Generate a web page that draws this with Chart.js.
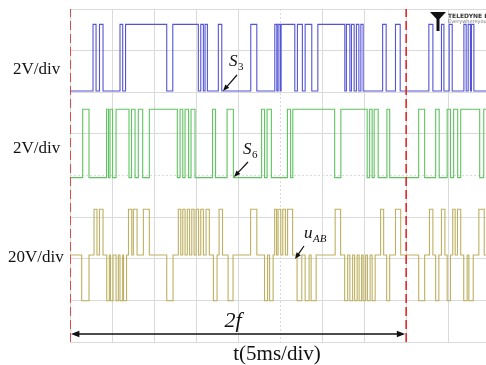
<!DOCTYPE html>
<html>
<head>
<meta charset="utf-8">
<script src="https://cdn.jsdelivr.net/npm/chart.js@4.4.1/dist/chart.umd.min.js"></script>
<style>
  html, body { margin: 0; padding: 0; background: #fff; }
</style>
</head>
<body>
<canvas id="scope" width="486" height="365"></canvas>
<script>
/* -----------------------
data (time in ms, 5 ms per division)
-------------------------- */
const tMax = 49.5;
const tEnd = 55;
const xGrid = [0, 5, 10, 15, 20, 25, 30, 35, 40, 45];
const yGrid = [0, 1, 2, 3, 4, 5, 6, 7, 8];
const periodMarks = [0, 40];

// S3 gate signal, intervals where it is high
const s3High = [
  [2.74, 3.10], [3.51, 3.93], [5.95, 6.27], [6.61, 11.51], [12.23, 15.27],
  [15.56, 15.87], [16.07, 16.35], [17.65, 18.06], [21.51, 22.23], [24.37, 24.61],
  [24.76, 25.00], [25.12, 26.75], [27.06, 27.65], [27.98, 28.77], [29.49, 32.70],
  [32.89, 33.30], [33.49, 33.81], [34.08, 34.37], [34.61, 34.88], [37.20, 37.62],
  [38.73, 39.29], [42.70, 43.18], [44.20, 44.49], [45.12, 45.48], [46.87, 47.14],
  [47.38, 47.65], [47.77, 48.06]
];

// S6 gate signal, intervals where it is high
const s6High = [
  [1.51, 2.26], [4.35, 4.58], [4.76, 5.06], [5.48, 7.02], [7.32, 7.74],
  [8.13, 8.65], [9.44, 12.77], [13.10, 13.42], [13.69, 14.11], [14.40, 14.88],
  [16.96, 17.32], [18.69, 19.44], [22.80, 23.15], [23.45, 23.96], [25.87, 26.25],
  [26.51, 31.49], [32.23, 35.36], [35.65, 35.95], [36.19, 36.67], [37.71, 38.04],
  [41.49, 42.20], [43.51, 43.93], [44.88, 45.27], [45.65, 46.13], [46.49, 48.75],
  [49.23, 50.50]
];

// uAB, positive and negative pulses
const uabPlus = [
  [2.86, 3.21], [3.51, 3.93], [6.96, 7.35], [7.54, 7.98], [8.73, 9.44],
  [12.89, 13.18], [13.42, 13.69], [13.96, 14.23], [14.49, 14.76], [15.00, 15.30],
  [15.56, 15.87], [16.19, 16.58], [17.74, 18.15], [21.49, 22.23], [24.35, 24.58],
  [24.76, 25.08], [25.32, 25.63], [25.89, 26.49], [31.55, 32.20], [36.96, 37.32],
  [38.73, 39.35], [42.77, 43.18], [44.20, 44.61], [45.54, 45.83], [46.11, 46.49],
  [48.65, 49.29]
];
const uabMinus = [
  [1.39, 2.26], [4.37, 4.68], [4.82, 5.12], [5.48, 5.75], [5.95, 6.27],
  [6.37, 6.73], [11.51, 12.26], [17.06, 17.50], [18.81, 19.40], [23.15, 23.51],
  [23.75, 24.17], [27.02, 27.58], [27.98, 28.45], [28.69, 29.29], [32.68, 33.04],
  [33.30, 33.63], [33.87, 34.17], [34.40, 34.70], [34.88, 35.18], [35.39, 35.71],
  [35.95, 36.31], [37.68, 38.04], [41.49, 42.20], [43.51, 43.89], [44.88, 45.27],
  [46.85, 47.26], [47.46, 47.98]
];

// channel offsets on screen (divisions)
const s3Level = { low: 6.03, high: 7.63 };
const s6Level = { low: 3.95, high: 5.59 };
const uabLevel = { zero: 2.09, amp: 1.1 };

/* -----------------------
build step traces
-------------------------- */
function gateTrace(pulses, lvl) {
  const pts = [{ x: 0, y: lvl.low }];
  pulses.forEach(function (p) {
    pts.push({ x: p[0], y: lvl.high });
    pts.push({ x: p[1], y: lvl.low });
  });
  pts.push({ x: tEnd, y: lvl.low });
  return pts;
}

function uabTrace() {
  const all = uabPlus.map(p => [p[0], p[1], 1])
    .concat(uabMinus.map(p => [p[0], p[1], -1]))
    .sort((a, b) => a[0] - b[0]);
  const pts = [{ x: 0, y: uabLevel.zero }];
  all.forEach(function (p) {
    pts.push({ x: p[0], y: uabLevel.zero + p[2] * uabLevel.amp });
    pts.push({ x: p[1], y: uabLevel.zero });
  });
  pts.push({ x: tEnd, y: uabLevel.zero });
  return pts;
}

const redLines = periodMarks.map(function (t) {
  return {
    data: [{ x: t, y: 0 }, { x: t, y: 8 }],
    borderColor: 'rgb(222,40,40)',
    borderWidth: 1.6,
    borderDash: [9, 4],
    pointRadius: 0,
    order: 0
  };
});

/* -----------------------
labels, arrows and logo
-------------------------- */
function arrow(ctx, x1, y1, x2, y2, head) {
  const a = Math.atan2(y2 - y1, x2 - x1);
  ctx.beginPath();
  ctx.moveTo(x1, y1);
  ctx.lineTo(x2 - Math.cos(a) * head * 0.8, y2 - Math.sin(a) * head * 0.8);
  ctx.stroke();
  ctx.beginPath();
  ctx.moveTo(x2, y2);
  ctx.lineTo(x2 - head * Math.cos(a - 0.38), y2 - head * Math.sin(a - 0.38));
  ctx.lineTo(x2 - head * Math.cos(a + 0.38), y2 - head * Math.sin(a + 0.38));
  ctx.closePath();
  ctx.fill();
}

const notes = {
  id: 'notes',
  afterDatasetsDraw(chart) {
    const ctx = chart.ctx;
    const xs = chart.scales.x;
    ctx.save();
    ctx.fillStyle = '#111';
    ctx.strokeStyle = '#111';

    // volts per division
    ctx.font = '17px "Liberation Serif"';
    ctx.textBaseline = 'middle';
    ctx.textAlign = 'left';
    ctx.fillText('2V/div', 13, 70);
    ctx.fillText('2V/div', 13, 149);
    ctx.fillText('20V/div', 8, 258);

    // axis caption
    ctx.font = '21px "Liberation Serif"';
    ctx.textAlign = 'center';
    ctx.fillText('t(5ms/div)', 277, 354);

    // 2f span arrow
    const xa = xs.getPixelForValue(periodMarks[0]);
    const xb = xs.getPixelForValue(periodMarks[1]);
    ctx.lineWidth = 1.4;
    arrow(ctx, (xa + xb) / 2, 334, xa + 1, 334, 9);
    arrow(ctx, (xa + xb) / 2, 334, xb - 1, 334, 9);
    ctx.font = 'italic 22px "Liberation Serif"';
    ctx.fillText('2f', 233, 321);

    // trace names
    ctx.textAlign = 'left';
    ctx.font = 'italic 17px "Liberation Serif"';
    ctx.fillText('S', 229, 62);
    ctx.fillText('S', 243, 150);
    ctx.fillText('u', 304, 234);
    ctx.font = '11px "Liberation Serif"';
    ctx.fillText('3', 238, 67);
    ctx.fillText('6', 252, 155);
    ctx.font = 'italic 11px "Liberation Serif"';
    ctx.fillText('AB', 313, 239);

    ctx.lineWidth = 1.2;
    arrow(ctx, 237, 75, 223, 91, 7);
    arrow(ctx, 248, 162, 234, 177, 7);
    arrow(ctx, 304, 246, 295, 259, 7);

    // scope logo
    ctx.beginPath();
    ctx.moveTo(430, 12);
    ctx.lineTo(446, 12);
    ctx.lineTo(439.5, 19);
    ctx.lineTo(439.5, 31);
    ctx.lineTo(436.5, 31);
    ctx.lineTo(436.5, 19);
    ctx.closePath();
    ctx.fill();
    ctx.font = 'bold 6px "DejaVu Sans"';
    ctx.fillStyle = '#333';
    ctx.fillText('TELEDYNE LECROY', 448, 16);
    ctx.font = '5px "DejaVu Sans"';
    ctx.fillStyle = '#777';
    ctx.fillText('Everywhereyoulook', 448, 22);
    ctx.restore();
  }
};

/* -----------------------
chart
-------------------------- */
const gridColor = '#dadada';

new Chart(document.getElementById('scope'), {
  type: 'line',
  data: {
    datasets: redLines.concat([
      {
        data: gateTrace(s3High, s3Level),
        borderColor: 'rgb(84,84,214)',
        borderWidth: 1.1,
        stepped: 'before',
        pointRadius: 0,
        order: 1
      },
      {
        data: gateTrace(s6High, s6Level),
        borderColor: 'rgb(96,196,96)',
        borderWidth: 1.1,
        stepped: 'before',
        pointRadius: 0,
        order: 1
      },
      {
        data: uabTrace(),
        borderColor: 'rgb(190,176,96)',
        borderWidth: 1.1,
        stepped: 'before',
        pointRadius: 0,
        order: 1
      }
    ])
  },
  options: {
    responsive: false,
    animation: false,
    parsing: false,
    layout: { padding: { left: 70, right: 0, top: 9, bottom: 23 } },
    plugins: { legend: { display: false }, tooltip: { enabled: false } },
    scales: {
      x: {
        type: 'linear',
        min: 0,
        max: tMax,
        afterBuildTicks: s => { s.ticks = xGrid.map(v => ({ value: v })); },
        ticks: { display: false },
        grid: { color: gridColor, drawTicks: false },
        border: { display: false, dash: c => (c.tick && c.tick.value === 25 ? [2, 2] : []) }
      },
      y: {
        type: 'linear',
        min: 0,
        max: 8,
        afterBuildTicks: s => { s.ticks = yGrid.map(v => ({ value: v })); },
        ticks: { display: false },
        grid: { color: gridColor, drawTicks: false },
        border: { display: false, dash: c => (c.tick && c.tick.value === 4 ? [2, 2] : []) }
      }
    }
  },
  plugins: [notes]
});
</script>
</body>
</html>
